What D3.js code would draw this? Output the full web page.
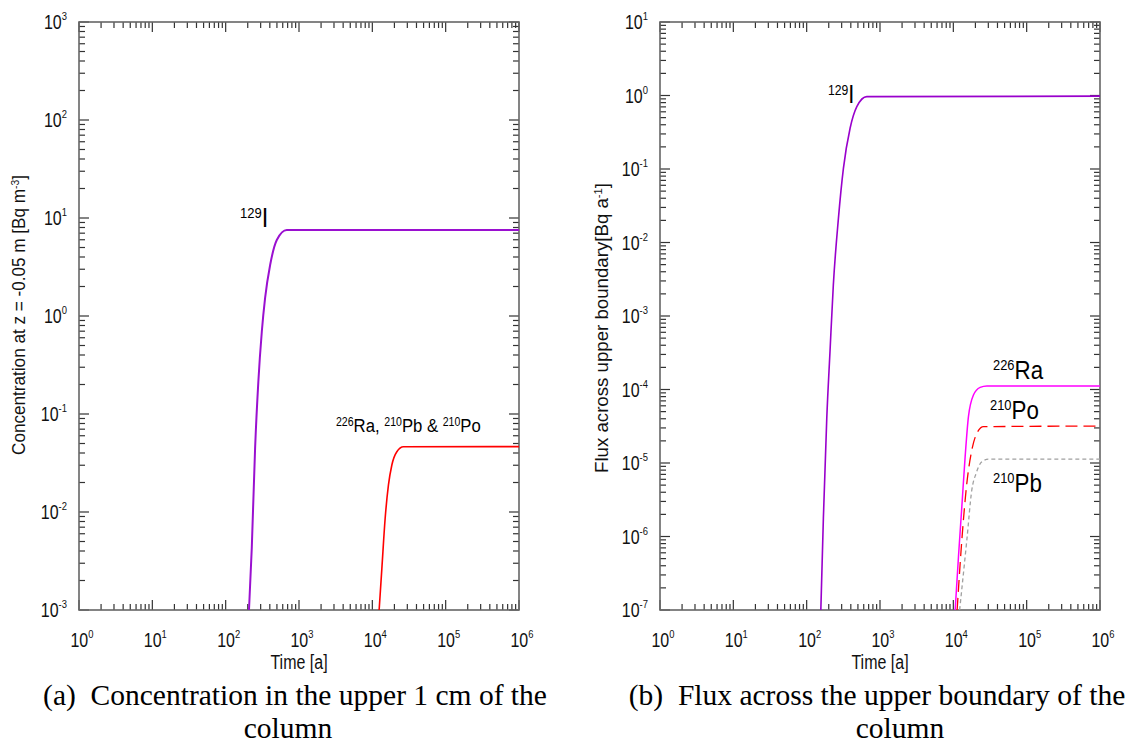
<!DOCTYPE html>
<html><head><meta charset="utf-8">
<script src="https://cdn.jsdelivr.net/npm/d3@7"></script>
<style>body{margin:0;background:#fff}svg{display:block}</style>
</head><body>
<svg id="c" width="1127" height="744"></svg>
<script>
// ---------- data ----------
// Panel (a): concentration at z = -0.05 m [Bq m-3]
const aI129_t = [208, 227, 252, 279, 311, 345, 404, 498, 682, 1e6];
const aI129_v = [1e-3, 4.3e-3, 0.045, 0.214, 0.69, 1.53, 3.31, 5.97, 7.55, 7.55];
const aRa_t = [12380, 13490, 14960, 16590, 18460, 21590, 26560, 1e6];
const aRa_v = [1e-3, 2.66e-3, 8.63e-3, 0.0189, 0.0302, 0.0412, 0.0463, 0.0465];
// Panel (b): flux across upper boundary [Bq a-1]
const bI129_t = [156, 169, 188, 208, 231, 271, 317, 391, 483, 661, 1e6];
const bI129_v = [1e-7, 1.77e-6, 4.06e-5, 3.27e-4, 2.64e-3, 0.0213, 0.102, 0.358, 0.705, 0.964, 0.98];
const bRa_t = [10590, 11750, 13060, 14490, 16070, 18800, 23210, 28650, 1e6];
const bRa_v = [1e-7, 5.3e-7, 2.55e-6, 1.22e-5, 4.27e-5, 8.41e-5, 1.07e-4, 1.12e-4, 1.12e-4];
const bPo_t = [11270, 13060, 15280, 17870, 20930, 25760, 1e6];
const bPo_v = [1e-7, 8.95e-7, 5.3e-6, 1.5e-5, 2.54e-5, 3.12e-5, 3.18e-5];
const bPb_t = [12190, 15280, 17870, 20460, 24490, 30130, 1e6];
const bPb_v = [1e-7, 8.95e-7, 4.3e-6, 7.24e-6, 1.04e-5, 1.13e-5, 1.13e-5];

const xDomain = [1, 1e6];
const aYDomain = [1e-3, 1e3];
const bYDomain = [1e-7, 10];
const xTickExps = [0, 1, 2, 3, 4, 5, 6];
const aYTickExps = [-3, -2, -1, 0, 1, 2, 3];
const bYTickExps = [-7, -6, -5, -4, -3, -2, -1, 0, 1];

const SANS = '"Liberation Sans",Arial,sans-serif';
const SERIF = '"Liberation Serif","Times New Roman",serif';
const SX = 0.82; // horizontal squeeze to mimic a narrow face

const svg = d3.select('#c');

// narrow text helper
function ntext(parent, x, y, anchor, sx) {
  return parent.append('g').attr('transform', `translate(${x},${y}) scale(${sx || SX},1)`)
    .append('text').attr('x', 0).attr('y', 0).attr('text-anchor', anchor || 'start')
    .attr('font-family', SANS).attr('fill', '#111');
}

function panel(opts) {
  const {x0, x1, y0, y1, yDomain, yExps, id} = opts;
  const x = d3.scaleLog().domain(xDomain).range([x0, x1]);
  const y = d3.scaleLog().domain(yDomain).range([y1, y0]);
  const g = svg.append('g');
  g.append('clipPath').attr('id', id).append('rect')
    .attr('x', x0).attr('y', y0).attr('width', x1 - x0).attr('height', y1 - y0);

  const isMajor = v => Math.abs(Math.log10(v) - Math.round(Math.log10(v))) < 1e-9;
  const tk = g.append('g').attr('stroke', '#333').attr('stroke-width', 1.2);
  x.ticks().forEach(v => {
    const L = isMajor(v) ? 10 : 6;
    const px = x(v);
    tk.append('line').attr('x1', px).attr('x2', px).attr('y1', y1).attr('y2', y1 - L);
    tk.append('line').attr('x1', px).attr('x2', px).attr('y1', y0).attr('y2', y0 + L);
  });
  y.ticks().forEach(v => {
    const L = isMajor(v) ? 10 : 6;
    const py = y(v);
    tk.append('line').attr('y1', py).attr('y2', py).attr('x1', x0).attr('x2', x0 + L);
    tk.append('line').attr('y1', py).attr('y2', py).attr('x1', x1).attr('x2', x1 - L);
  });
  g.append('rect').attr('x', x0).attr('y', y0).attr('width', x1 - x0).attr('height', y1 - y0)
    .attr('fill', 'none').attr('stroke', '#666').attr('stroke-width', 1.6);

  // tick labels
  xTickExps.forEach(e => {
    const t = ntext(g, x(Math.pow(10, e)) + 3, y1 + 37, 'middle');
    t.append('tspan').attr('font-size', 19.5).text('10');
    t.append('tspan').attr('font-size', 11.5).attr('dy', -9).text(e);
  });
  yExps.forEach(e => {
    const t = ntext(g, x0 - 12, y(Math.pow(10, e)) + 7, 'end');
    t.append('tspan').attr('font-size', 19.5).text('10');
    t.append('tspan').attr('font-size', 11.5).attr('dy', -9).text(e);
  });
  ntext(g, (x0 + x1) / 2, y1 + 59, 'middle').attr('font-size', 19.5).text('Time [a]');
  return {g, x, y};
}

function curve(p, ts, vs, color, width, dash) {
  const line = d3.line().x(d => p.x(d[0])).y(d => p.y(d[1])).curve(d3.curveMonotoneX);
  p.g.append('path').datum(ts.map((t, i) => [t, vs[i]]))
    .attr('d', line).attr('fill', 'none').attr('stroke', color).attr('stroke-width', width)
    .attr('stroke-dasharray', dash || null)
    .attr('clip-path', 'url(#' + p.clip + ')');
}

function isotope(g, x, y, parts, supSize, baseSize, rise, sx) {
  const t = ntext(g, x, y, 'start', sx).attr('fill', '#000');
  parts.forEach(([s, b]) => {
    if (s) t.append('tspan').attr('font-size', supSize).attr('dy', -rise).text(s);
    t.append('tspan').attr('font-size', baseSize).attr('dy', s ? rise : 0).text(b);
  });
  return t;
}

function yTitle(x, y, len, main, sup) {
  const t = svg.append('text').attr('transform', `translate(${x},${y}) rotate(-90)`)
    .attr('text-anchor', 'middle').attr('font-family', SANS).attr('font-size', 17.5).attr('fill', '#111')
    .attr('textLength', len).attr('lengthAdjust', 'spacingAndGlyphs');
  t.append('tspan').text(main);
  t.append('tspan').attr('font-size', 10.5).attr('dy', -6).text(sup);
  t.append('tspan').attr('dy', 6).text(']');
}

// ----- panel (a)
const A = panel({x0: 79, x1: 519, y0: 22, y1: 610, yDomain: aYDomain, yExps: aYTickExps, id: 'ca'});
A.clip = 'ca';
curve(A, aRa_t, aRa_v, '#ff0000', 1.6);
curve(A, aI129_t, aI129_v, '#9a10d0', 2);
yTitle(25, 315, 280, 'Concentration at z = -0.05 m [Bq m', '-3');
isotope(A.g, 240, 227, [['129', 'I']], 15, 27, 9, 0.87);
isotope(A.g, 336, 432, [['226', 'Ra, '], ['210', 'Pb & '], ['210', 'Po']], 12, 19, 6, 0.88);

// ----- panel (b)
const B = panel({x0: 660, x1: 1100, y0: 22, y1: 610, yDomain: bYDomain, yExps: bYTickExps, id: 'cb'});
B.clip = 'cb';
curve(B, bPb_t, bPb_v, '#a0a0a0', 1.3, '4,3');
curve(B, bPo_t, bPo_v, '#ff0000', 1.3, '12,6');
curve(B, bRa_t, bRa_v, '#ff00ff', 1.5);
curve(B, bI129_t, bI129_v, '#9900cc', 1.6);
yTitle(608, 328, 290, 'Flux across upper boundary[Bq a', '-1');
isotope(B.g, 828, 103, [['129', 'I']], 14, 25, 8, 0.87);
isotope(B.g, 993, 379, [['226', 'Ra']], 15, 26, 9, 0.86);
isotope(B.g, 990, 419, [['210', 'Po']], 15, 26, 9, 0.86);
isotope(B.g, 993, 492, [['210', 'Pb']], 15, 26, 9, 0.86);

// ----- captions
function caption(lines) {
  lines.forEach(([x, y, s]) => svg.append('text').attr('x', x).attr('y', y)
    .attr('text-anchor', 'middle').attr('font-family', SERIF).attr('font-size', 29.5)
    .attr('fill', '#000').style('white-space', 'pre').text(s));
}
caption([[295, 705, '(a)  Concentration in the upper 1 cm of the'], [288, 738, 'column'],
         [877, 705, '(b)  Flux across the upper boundary of the'], [900, 738, 'column']]);
</script>
</body></html>
